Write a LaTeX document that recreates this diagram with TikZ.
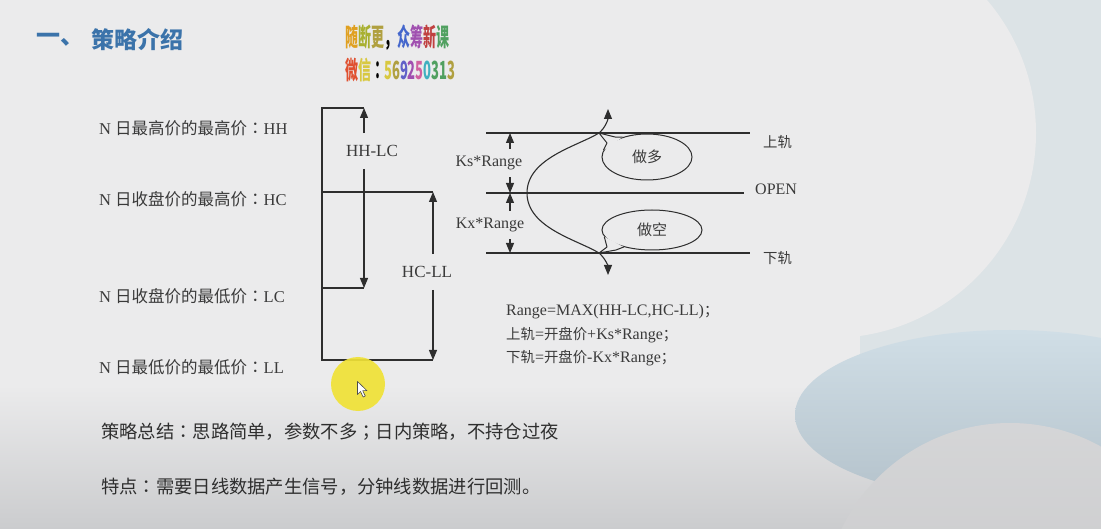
\documentclass[tikz,border=0pt]{standalone}
\usepackage{fontspec}
\usepackage{graphicx}
\usetikzlibrary{arrows.meta,shapes.geometric}
\setmainfont{Liberation Serif}
\newfontfamily\cjk{Noto Sans CJK SC}[Scale=0.9]
\newfontfamily\cjkfull{Noto Sans CJK SC}
\newfontfamily\cjkjp{Noto Sans CJK JP}

\definecolor{bg}{HTML}{EBEBEC}
\definecolor{bgbot}{HTML}{CBCCCE}
\definecolor{sideblue}{HTML}{DCE3E6}
\definecolor{bandtop}{HTML}{D0DEE6}
\definecolor{bandbot}{HTML}{B4C2CB}
\definecolor{cornergray}{HTML}{C2C2C3}
\definecolor{ink}{HTML}{2E2E2E}
\definecolor{txt}{HTML}{3A3A3A}
\definecolor{txtdark}{HTML}{2E2E2E}
\definecolor{titleblue}{HTML}{3B73AA}
\definecolor{hilite}{HTML}{F0E236}
\definecolor{wa}{HTML}{E0A020}
\definecolor{wb}{HTML}{A8B030}
\definecolor{wc}{HTML}{B0A040}
\definecolor{wd}{HTML}{4466CC}
\definecolor{we}{HTML}{A050B0}
\definecolor{wf}{HTML}{C04040}
\definecolor{wg}{HTML}{50A060}
\definecolor{wh}{HTML}{E05030}
\definecolor{wi}{HTML}{D8C840}
\definecolor{wj}{HTML}{6060C8}
\definecolor{wk}{HTML}{D060A0}
\definecolor{wl}{HTML}{40B0C0}

\newcommand\wmc[2]{\textcolor{#1}{#2}}
% centred full-width colon and semicolon
\newcommand\zcolon{{\cjkjp ：}}
\newcommand\zsemi{{\cjkjp ；}}

\tikzset{
  lab/.style={font=\fontsize{16}{19}\selectfont, text=txt, inner sep=0pt},
  levlab/.style={anchor=west, inner sep=0pt, text=txt, font=\fontsize{16.5}{19}\selectfont},
  gaplab/.style={lab, font=\fontsize{17}{19}\selectfont, inner xsep=2pt, inner ysep=12pt},
  dimlab/.style={lab, inner xsep=2pt, inner ysep=7pt},
  rule/.style={draw=ink, line width=1.1pt},
  head/.tip={Triangle[length=10pt,width=8pt]},
  tip/.style={rule, -head},
  bubble/.style={ellipse, draw=ink, line width=1pt, inner sep=0pt,
    font=\cjkfull\fontsize{15}{18}\selectfont, text=txt},
  tailline/.style={draw=ink, line width=1pt, line join=round},
  body/.style={anchor=west, inner sep=0pt, text=txtdark,
    font=\cjkfull\fontsize{18.3}{21}\selectfont},
}

\begin{document}
\begin{tikzpicture}[x=1pt,y=-1pt]
\useasboundingbox (0,0) rectangle (1101,529);
\clip (0,0) rectangle (1101,529);

% slide backdrop
\fill[bg] (0,0) rectangle (1101,529);
\shade[top color=bg, bottom color=bgbot] (0,385) rectangle (1101,529);
\fill[sideblue] (860,0) rectangle (1101,370);
\shade[top color=bandtop, bottom color=bandbot] (1010,415) ellipse [x radius=215, y radius=85];
\fill[bg] (831,133) circle [radius=205];
\shade[top color=bgbot!70!bg, bottom color=cornergray] (1010,610) circle [radius=187];

% heading
\node[anchor=west, inner sep=0pt, text=titleblue,
      font=\cjkfull\bfseries\fontsize{24}{26}\selectfont] (num) at (36,40) {一、};
\node[anchor=west, inner sep=0pt, text=titleblue,
      font=\cjkfull\bfseries\fontsize{23}{26}\selectfont] (title) at (91,40) {策略介绍};

% coloured banner
\node[anchor=west, inner sep=0pt, font=\cjkfull\bfseries\fontsize{25}{26}\selectfont] (wm1) at (345,38)
  {\scalebox{0.52}[1]{\wmc{wa}{随}\wmc{wb}{断}\wmc{wc}{更}\wmc{black}{，}\wmc{wd}{众}\wmc{we}{筹}\wmc{wf}{新}\wmc{wg}{课}}};
\node[anchor=west, inner sep=0pt, font=\cjkfull\bfseries\fontsize{25}{26}\selectfont] (wm2) at (345,70)
  {\scalebox{0.52}[1]{\wmc{wh}{微}\wmc{wi}{信}\wmc{black}{\zcolon}\wmc{wi}{5}\wmc{wc}{6}\wmc{wj}{9}\wmc{we}{2}\wmc{wk}{5}\wmc{wl}{0}\wmc{wg}{3}\wmc{wg}{1}\wmc{wc}{3}}};

% price level labels
\node[levlab] (hh) at (99,128) {N {\cjkfull 日最高价的最高价\zcolon}HH};
\node[levlab] (hc) at (99,199) {N {\cjkfull 日收盘价的最高价\zcolon}HC};
\node[levlab] (lc) at (99,296) {N {\cjkfull 日收盘价的最低价\zcolon}LC};
\node[levlab] (ll) at (99,367) {N {\cjkfull 日最低价的最低价\zcolon}LL};

% bracket of the four levels
\coordinate (b1) at (322,108); \coordinate (b1e) at (364,108);
\coordinate (b2) at (322,192); \coordinate (b2e) at (433,192);
\coordinate (b3) at (322,288); \coordinate (b3e) at (364,288);
\coordinate (b4) at (322,360); \coordinate (b4e) at (433,360);
\draw[rule] (b1e) -- (b1) -- (b4) -- (b4e);
\draw[rule] (b2) -- (b2e);
\draw[rule] (b3) -- (b3e);

\node[gaplab] (hhlc) at (372,151) {HH-LC};
\draw[tip] (hhlc.north -| b1e) -- (b1e);
\draw[tip] (hhlc.south -| b1e) -- (b3e);
\node[gaplab] (hcll) at (427,272) {HC-LL};
\draw[tip] (hcll.north -| b2e) -- (b2e);
\draw[tip] (hcll.south -| b2e) -- (b4e);

% channel around the open price
\coordinate (up) at (599,133);
\coordinate (dn) at (599,253);
\coordinate (ctop) at (608,109);
\coordinate (cbot) at (608,275);

\node[bubble, minimum width=90pt, minimum height=46pt] (long) at (647,157) {做多};
\node[bubble, minimum width=100pt, minimum height=40pt] (short) at (652,230) {做空};
\fill[bg] (long.171) -- (up) -- (long.141) -- cycle;
\draw[tailline] (long.171) -- (607,143) -- (up) -- (615,137) -- (long.141);
\fill[bg] (short.188) -- (dn) -- (short.211) -- cycle;
\draw[tailline] (short.188) -- (607,247) -- (dn) -- (616,250) -- (short.211);

\coordinate (r1a) at (486,133); \coordinate (r1b) at (750,133);
\coordinate (r2a) at (486,193); \coordinate (r2b) at (744,193);
\coordinate (r3a) at (486,253); \coordinate (r3b) at (750,253);
\draw[rule] (r1a) -- (r1b);
\draw[rule] (r2a) -- (r2b);
\draw[rule] (r3a) -- (r3b);

\node[lab, anchor=west] (upper) at (763,142) {\cjk 上轨};
\node[lab, anchor=west] (open) at (755,189) {OPEN};
\node[lab, anchor=west] (lower) at (763,258) {\cjk 下轨};

\coordinate (kx0) at (510,0);
\node[dimlab] (ks) at (489,163) {Ks*Range};
\node[dimlab] (kx) at (490,225) {Kx*Range};
\draw[tip] (ks.north -| kx0) -- (r1a -| kx0);
\draw[tip] (ks.south -| kx0) -- (r2a -| kx0);
\draw[tip] (kx.north -| kx0) -- (r2a -| kx0);
\draw[tip] (kx.south -| kx0) -- (r3a -| kx0);

\draw[rule, head-head]
  (ctop) .. controls (608,120) and (605,128) .. (up)
  .. controls (578,146) and (527,158) .. (527,193)
  .. controls (527,228) and (578,240) .. (dn)
  .. controls (605,258) and (608,266) .. (cbot);

% formulas
\node[lab, anchor=west] (f1) at (506,312) {Range=MAX(HH-LC,HC-LL){\cjk ；}};
\node[lab, anchor=west] (f2) at (506,335) {{\cjk 上轨}={\cjk 开盘价}+Ks*Range{\cjk ；}};
\node[lab, anchor=west] (f3) at (506,358) {{\cjk 下轨}={\cjk 开盘价}-Kx*Range{\cjk ；}};

% pointer highlight
\fill[hilite, opacity=0.92] (358,384) circle [radius=27];
\draw[fill=white, draw=black!70, line width=0.6pt, line join=round]
  (357.5,381.5) -- ++(0,13) -- ++(3,-3) -- ++(2.6,5.5) -- ++(2.2,-1) -- ++(-2.6,-5.3) -- ++(4.3,0) -- cycle;

% summary lines
\node[body] (summary) at (101,432) {策略总结\zcolon 思路简单，参数不多\zsemi 日内策略，不持仓过夜};
\node[body] (traits) at (101,487) {特点\zcolon 需要日线数据产生信号，分钟线数据进行回测。};
\end{tikzpicture}
\end{document}
